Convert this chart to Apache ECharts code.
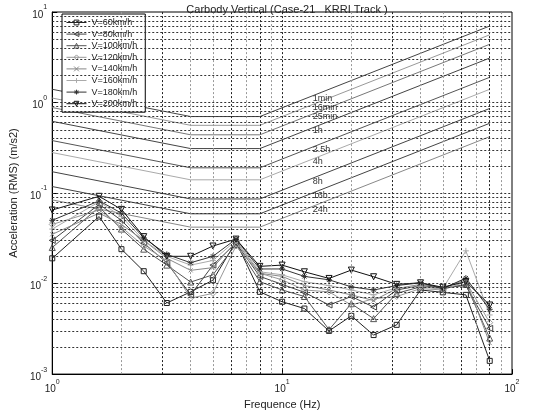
<!DOCTYPE html>
<html>
<head>
<meta charset="utf-8">
<script src="https://cdn.jsdelivr.net/npm/echarts@6/dist/echarts.min.js"></script>
<style>
  html, body { margin: 0; padding: 0; background: #fff; }
  #chart { width: 538px; height: 415px; }
</style>
</head>
<body>
<div id="chart"></div>
<script>
// 1/3-octave band centre frequencies (Hz)
const freqs = [1, 1.6, 2, 2.5, 3.15, 4, 5, 6.3, 8, 10, 12.5, 16, 20, 25, 31.5, 40, 50, 63, 80];

// RMS acceleration per band (m/s2) for each running speed
const v60  = [0.019, 0.055, 0.024, 0.0137, 0.0061, 0.0081, 0.0109, 0.029, 0.0081, 0.0063, 0.0053, 0.0030, 0.0044, 0.0027, 0.0035, 0.0085, 0.0080, 0.0075, 0.0014];
const v80  = [0.030, 0.075, 0.050, 0.028, 0.017, 0.0075, 0.016, 0.028, 0.012, 0.0098, 0.0080, 0.0058, 0.0072, 0.0055, 0.0085, 0.0095, 0.0090, 0.0095, 0.0032];
const v100 = [0.025, 0.070, 0.040, 0.024, 0.016, 0.0104, 0.0125, 0.027, 0.0105, 0.0085, 0.0072, 0.0031, 0.0060, 0.0041, 0.0078, 0.0092, 0.0088, 0.0098, 0.0025];
const v120 = [0.045, 0.065, 0.042, 0.026, 0.018, 0.0069, 0.0078, 0.026, 0.013, 0.011, 0.0085, 0.0081, 0.0058, 0.0068, 0.0072, 0.0088, 0.0085, 0.0105, 0.0037];
const v140 = [0.035, 0.060, 0.045, 0.030, 0.019, 0.014, 0.015, 0.029, 0.013, 0.012, 0.0095, 0.0085, 0.0075, 0.0065, 0.0088, 0.0098, 0.0090, 0.0110, 0.0022];
const v160 = [0.040, 0.080, 0.055, 0.030, 0.020, 0.016, 0.018, 0.030, 0.0135, 0.0125, 0.0105, 0.0095, 0.0085, 0.0075, 0.0090, 0.0092, 0.0088, 0.023, 0.0045];
const v180 = [0.050, 0.082, 0.060, 0.032, 0.021, 0.017, 0.020, 0.031, 0.0145, 0.0145, 0.012, 0.011, 0.0092, 0.0085, 0.0095, 0.0102, 0.0088, 0.0115, 0.0052];
const v200 = [0.065, 0.092, 0.066, 0.033, 0.020, 0.020, 0.026, 0.031, 0.0155, 0.016, 0.0135, 0.0114, 0.0141, 0.0119, 0.0098, 0.0102, 0.0091, 0.0105, 0.0058];

const speedNames = ['V=60km/h', 'V=80km/h', 'V=100km/h', 'V=120km/h', 'V=140km/h', 'V=160km/h', 'V=180km/h', 'V=200km/h'];

// Reduced-comfort boundaries: corner frequencies and level at each corner
const comfortFreqs = [1, 4, 8, 80];
const comfortNames = ['1min', '16min', '25min', '1h', '2.5h', '4h', '8h', '16h', '24h'];
const c1min  = [1.40, 0.70, 0.70, 7.0];
const c16min = [1.12, 0.56, 0.56, 5.6];
const c25min = [0.88, 0.44, 0.44, 4.4];
const c1h    = [0.62, 0.31, 0.31, 3.1];
const c2h5   = [0.38, 0.19, 0.19, 1.9];
const c4h    = [0.28, 0.14, 0.14, 1.4];
const c8h    = [0.172, 0.086, 0.086, 0.86];
const c16h   = [0.118, 0.059, 0.059, 0.59];
const c24h   = [0.084, 0.042, 0.042, 0.42];
const comfortLabelFreq = 13.6;

// Value on a piecewise log-log curve, used to anchor the curve labels
function curveAt(f, fs, vs) {
  for (let i = 0; i < fs.length - 1; i++) {
    if (f >= fs[i] && f <= fs[i + 1]) {
      const t = Math.log(f / fs[i]) / Math.log(fs[i + 1] / fs[i]);
      return Math.exp(Math.log(vs[i]) + t * Math.log(vs[i + 1] / vs[i]));
    }
  }
  return vs[vs.length - 1];
}

const FONT = '"Liberation Sans", Arial, sans-serif';
const TXT = '#222';

const speedData = [v60, v80, v100, v120, v140, v160, v180, v200];
const speedColors = ['#222', '#444', '#555', '#999', '#888', '#aaa', '#333', '#111'];

// Outline marker shapes (drawn unfilled)
const squarePath = 'path://M0,0L10,0L10,10L0,10Z';
const trianglePath = 'path://M5,0L10,9L0,9Z';
const diamondPath = 'path://M5,0L10,5L5,10L0,5Z';
const plusPath = 'path://M5,0L5,10M0,5L10,5';
const crossPath = 'path://M0,0L10,10M10,0L0,10';
const starPath = 'path://M5,0L5,10M0,5L10,5M1.5,1.5L8.5,8.5M8.5,1.5L1.5,8.5';
const speedSymbols = [
  { symbol: squarePath, size: 5, rotate: 0 },
  { symbol: trianglePath, size: 6, rotate: 90 },
  { symbol: trianglePath, size: 6, rotate: 0 },
  { symbol: diamondPath, size: 6, rotate: 0 },
  { symbol: crossPath, size: 4, rotate: 0 },
  { symbol: plusPath, size: 6, rotate: 0 },
  { symbol: starPath, size: 6, rotate: 0 },
  { symbol: trianglePath, size: 6, rotate: 180 }
];

const comfortData = [c1min, c16min, c25min, c1h, c2h5, c4h, c8h, c16h, c24h];
const comfortColors = ['#444', '#999', '#777', '#444', '#555', '#aaa', '#444', '#444', '#888'];

// Dotted grid at every decade and sub-decade step of both log axes
const xGrid = [], yGrid = [];
[1, 10].forEach(d => { for (let k = 2; k <= 10; k++) if (d * k < 100) xGrid.push(d * k); });
[0.001, 0.01, 0.1, 1].forEach(d => { for (let k = 2; k <= 10; k++) if (d * k < 10) yGrid.push(+(d * k).toPrecision(3)); });
const darkX = [3, 6, 8, 10, 30, 60, 80];
const xGridLines = xGrid.map(v => ({ xAxis: v, lineStyle: { color: darkX.includes(v) ? '#222' : '#999' } }));
const yGridLines = yGrid.map(v => [{ coord: [1, v] }, { coord: [100, v] }]);

function powLabel(v) {
  const e = Math.round(Math.log10(v));
  return '{b|10}{e|' + e + '}';
}
const powRich = {
  b: { fontSize: 10, lineHeight: 16, verticalAlign: 'bottom', color: TXT, fontFamily: FONT },
  e: { fontSize: 7, lineHeight: 16, verticalAlign: 'top', color: TXT, fontFamily: FONT }
};

const series = [];
series.push({
  type: 'line', name: 'gridX', data: [], silent: true, z: 0,
  markLine: {
    silent: true, symbol: 'none', animation: false,
    label: { show: false },
    lineStyle: { type: [2, 2], width: 1, color: '#333' },
    data: xGridLines
  }
});
series.push({
  type: 'line', name: 'gridY', data: [], silent: true, z: 0,
  markLine: {
    silent: true, symbol: 'none', animation: false,
    label: { show: false },
    lineStyle: { type: [2, 2], width: 1, color: '#333' },
    data: yGridLines
  }
});

comfortData.forEach((vals, i) => {
  series.push({
    type: 'line', name: comfortNames[i], silent: true, z: 1,
    data: comfortFreqs.map((f, j) => [f, vals[j]]),
    symbol: 'none',
    lineStyle: { width: 1, color: comfortColors[i] },
    markPoint: {
      symbol: 'circle', symbolSize: 0, animation: false,
      data: [{ coord: [comfortLabelFreq, curveAt(comfortLabelFreq, comfortFreqs, vals)] }],
      label: {
        show: true, position: 'right', distance: 0, offset: [0, 3],
        formatter: comfortNames[i], fontSize: 9, color: '#333', fontFamily: FONT
      }
    }
  });
});

speedData.forEach((vals, i) => {
  const s = speedSymbols[i];
  series.push({
    type: 'line', name: speedNames[i], z: 3,
    data: freqs.map((f, j) => [f, vals[j]]),
    symbol: s.symbol, symbolSize: s.size, symbolRotate: s.rotate,
    showAllSymbol: true,
    lineStyle: { width: 1, color: speedColors[i] },
    itemStyle: { color: 'rgba(255,255,255,0)', borderColor: speedColors[i], borderWidth: 1 }
  });
});

const chart = echarts.init(document.getElementById('chart'), null, { renderer: 'canvas' });
chart.setOption({
  animation: false,
  backgroundColor: '#fff',
  title: {
    text: 'Carbody Vertical (Case-21   KRRI Track )',
    left: 282, top: -1, textAlign: 'center',
    textStyle: { fontSize: 11, fontWeight: 'normal', color: TXT, fontFamily: FONT }
  },
  legend: {
    data: speedNames,
    orient: 'vertical', left: 62, top: 14,
    itemWidth: 20, itemHeight: 6, itemGap: 2.6,
    backgroundColor: '#fff', borderColor: '#000', borderWidth: 1,
    padding: [4, 8, 4, 4],
    itemStyle: { color: 'rgba(255,255,255,0)', borderColor: 'inherit', borderWidth: 1 },
    lineStyle: { width: 1 },
    textStyle: { fontSize: 9, color: TXT, fontFamily: FONT },
    selectedMode: false
  },
  grid: { left: 52, right: 26, top: 12, bottom: 34, show: true, borderColor: '#000', borderWidth: 1, backgroundColor: '#fff' },
  xAxis: {
    type: 'log', logBase: 10, min: 1, max: 100,
    name: 'Frequence (Hz)', nameLocation: 'middle', nameGap: 20,
    nameTextStyle: { fontSize: 11, color: TXT, fontFamily: FONT },
    axisLine: { lineStyle: { color: '#000' } },
    axisTick: { inside: true, length: 5, lineStyle: { color: '#000' } },
    splitLine: { show: false },
    axisLabel: { formatter: powLabel, rich: powRich, margin: 4 }
  },
  yAxis: {
    type: 'log', logBase: 10, min: 0.001, max: 10,
    name: 'Acceleration (RMS) (m/s2)', nameLocation: 'middle', nameGap: 25, nameRotate: 90,
    nameTextStyle: { fontSize: 11, color: TXT, fontFamily: FONT },
    axisLine: { lineStyle: { color: '#000' } },
    axisTick: { inside: true, length: 5, lineStyle: { color: '#000' } },
    splitLine: { show: false },
    axisLabel: { formatter: powLabel, rich: powRich, margin: 5 }
  },
  series: series
});
</script>
</body>
</html>
